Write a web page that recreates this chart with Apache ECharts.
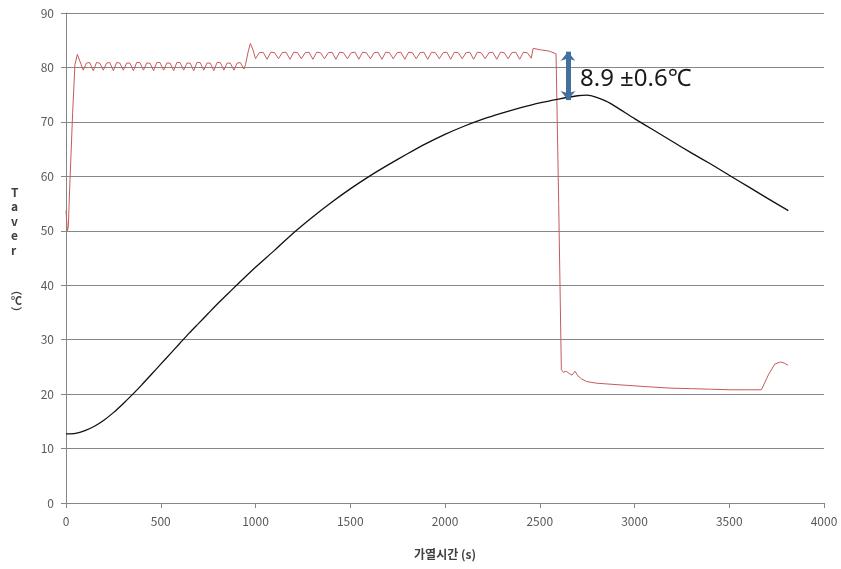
<!DOCTYPE html>
<html>
<head>
<meta charset="utf-8">
<script src="https://cdn.jsdelivr.net/npm/echarts@6/dist/echarts.min.js"></script>
<style>
  html, body { margin: 0; padding: 0; background: #fff; }
  #chart { width: 841px; height: 569px; }
</style>
</head>
<body>
<div id="chart"></div>
<script>
// Heater setpoint trace (red): time in s, temperature in ℃
const redTime = [
  0, 7, 12, 21, 35, 47, 60, 75,
  91, 108, 125, 144, 161, 178, 197, 214, 231, 250, 267, 284,
  303, 320, 337, 356, 373, 390, 409, 426, 443, 462, 479, 496,
  515, 532, 549, 568, 585, 602, 621, 638, 655, 674, 691, 708,
  727, 744, 761, 780, 797, 814, 833, 850, 867, 886, 903, 920,
  939, 947, 953, 962, 973, 985,
  1000, 1020, 1040, 1061, 1081, 1101, 1121, 1141, 1161, 1182, 1202, 1222,
  1242, 1262, 1282, 1303, 1323, 1343, 1364, 1384, 1404, 1424, 1444, 1464,
  1485, 1505, 1525, 1545, 1565, 1585, 1606, 1626, 1646, 1667, 1687, 1707,
  1727, 1747, 1767, 1788, 1808, 1828, 1848, 1868, 1888, 1909, 1929, 1949,
  1970, 1990, 2010, 2030, 2050, 2070, 2091, 2111, 2131, 2151, 2171, 2191,
  2212, 2232, 2252, 2273, 2293, 2313, 2333, 2353, 2373, 2394, 2414, 2434,
  2455, 2465, 2510, 2550, 2586,
  2600, 2614, 2625, 2640, 2655, 2670, 2686, 2700, 2720, 2748, 2800, 2923,
  3050, 3187, 3300, 3400, 3500, 3600, 3670, 3706, 3740, 3770, 3790, 3810
];
const redTemp = [
  53.7, 50.0, 50.6, 59.2, 71.6, 80.5, 82.4, 81.0,
  79.5, 80.8, 80.9, 79.4, 80.9, 80.8, 79.5, 80.8, 80.9, 79.4, 80.9, 80.8,
  79.5, 80.8, 80.8, 79.4, 80.9, 80.9, 79.5, 80.8, 80.8, 79.4, 80.9, 80.9,
  79.5, 80.8, 80.8, 79.4, 80.9, 80.9, 79.5, 80.8, 80.8, 79.4, 80.9, 80.9,
  79.5, 80.8, 80.8, 79.4, 80.9, 80.9, 79.5, 80.8, 80.8, 79.5, 80.8, 80.9,
  79.7, 80.5, 80.3, 83.0, 84.4, 83.4,
  81.6, 82.7, 82.8, 81.5, 82.8, 82.7, 81.6, 82.7, 82.8, 81.5, 82.8, 82.7,
  81.6, 82.7, 82.8, 81.5, 82.8, 82.7, 81.6, 82.7, 82.8, 81.5, 82.8, 82.7,
  81.6, 82.7, 82.8, 81.5, 82.8, 82.7, 81.6, 82.7, 82.8, 81.5, 82.8, 82.7,
  81.6, 82.7, 82.8, 81.5, 82.8, 82.7, 81.6, 82.7, 82.8, 81.5, 82.8, 82.7,
  81.6, 82.7, 82.8, 81.5, 82.8, 82.7, 81.6, 82.7, 82.8, 81.5, 82.8, 82.7,
  81.6, 82.7, 82.8, 81.5, 82.8, 82.7, 81.6, 82.7, 82.8, 81.5, 82.8, 82.7,
  81.7, 83.5, 83.2, 83.0, 82.5,
  55.0, 24.5, 24.0, 24.2, 23.8, 23.5, 24.2, 23.4, 22.8, 22.3, 22.0, 21.7,
  21.4, 21.1, 21.0, 20.9, 20.8, 20.8, 20.8, 23.5, 25.5, 25.9, 25.7, 25.3
];

// Average temperature trace (black)
const blackTime = [
  0, 50, 100, 150, 200, 250, 300, 350, 400, 450, 500, 550, 600, 650, 700, 750,
  800, 850, 900, 1000, 1100, 1200, 1300, 1400, 1500, 1600, 1700, 1800, 1900,
  2000, 2100, 2200, 2300, 2400, 2500, 2600, 2700, 2750, 2800, 2850, 2900, 3000,
  3100, 3200, 3300, 3400, 3500, 3600, 3700, 3812
];
const blackTemp = [
  12.7, 12.8, 13.3, 14.1, 15.2, 16.6, 18.2, 19.9, 21.7, 23.6, 25.5, 27.4, 29.3, 31.2, 33.0, 34.8,
  36.6, 38.3, 40.0, 43.3, 46.4, 49.6, 52.5, 55.2, 57.7, 60.0, 62.1, 64.1, 66.0,
  67.7, 69.2, 70.5, 71.6, 72.6, 73.5, 74.2, 74.8, 74.9, 74.5, 73.8, 72.8, 70.6,
  68.5, 66.4, 64.3, 62.3, 60.2, 58.1, 56.0, 53.7
];

// Gap annotation between the two traces
const gapTime = 2649;
const gapTop = 82.9;
const gapBottom = 74.0;
const gapLabel = '8.9 ±0.6℃';
const gapLabelAt = [2686, 77.8];

const xTitle = '가열시간 (s)';
const yTitleLetters = ['T', 'a', 'v', 'e', 'r'];
const yTitleUnit = ['︵', '℃', '︶'];

const axisGray = '#868686';
const labelGray = '#595959';
const baseFont = '"Noto Sans CJK KR", "Noto Sans", sans-serif';

const chart = echarts.init(document.getElementById('chart'), null, { renderer: 'canvas' });

chart.setOption({
  animation: false,
  backgroundColor: '#ffffff',
  grid: { left: 66, right: 17, top: 13, bottom: 66, containLabel: false },
  xAxis: {
    type: 'value',
    min: 0, max: 4000, interval: 500,
    name: xTitle,
    nameLocation: 'middle',
    nameGap: 45,
    nameTextStyle: { fontFamily: baseFont, fontSize: 12, fontWeight: 'bold', color: '#404040' },
    axisLine: { show: true, lineStyle: { color: axisGray, width: 1 } },
    axisTick: { show: true, inside: false, length: 5, lineStyle: { color: axisGray } },
    axisLabel: {
      fontFamily: baseFont, fontSize: 12, color: labelGray, margin: 12,
      formatter: (v) => String(v)
    },
    splitLine: { show: false }
  },
  yAxis: {
    type: 'value',
    min: 0, max: 90, interval: 10,
    axisLine: { show: true, lineStyle: { color: axisGray, width: 1 } },
    axisTick: { show: true, inside: false, length: 5, lineStyle: { color: axisGray } },
    axisLabel: { fontFamily: baseFont, fontSize: 12, color: labelGray, margin: 12 },
    splitLine: { show: true, lineStyle: { color: axisGray, width: 1 } }
  },
  graphic: [
    {
      type: 'text', left: 11, top: 185,
      style: {
        text: yTitleLetters.join('\n'),
        font: 'bold 12px ' + baseFont,
        fill: '#404040',
        lineHeight: 14.5,
        align: 'center'
      }
    },
    {
      type: 'text', left: 11, top: 284,
      style: {
        text: yTitleUnit.join('\n'),
        font: 'bold 11px ' + baseFont,
        fill: '#404040',
        lineHeight: 11.5,
        align: 'center'
      }
    }
  ],
  series: [
    {
      name: 'heater',
      type: 'line',
      data: redTime.map((t, i) => [t, redTemp[i]]),
      showSymbol: false,
      smooth: false,
      lineStyle: { color: '#c85a5a', width: 1 },
      z: 3
    },
    {
      name: 'Taver',
      type: 'line',
      data: blackTime.map((t, i) => [t, blackTemp[i]]),
      showSymbol: false,
      smooth: 0.2,
      lineStyle: { color: '#111111', width: 1.3 },
      z: 4,
      markLine: {
        silent: true,
        symbol: ['arrow', 'arrow'],
        symbolSize: [11, 9],
        label: { show: false },
        lineStyle: { color: '#41719c', width: 5, type: 'solid' },
        data: [[{ coord: [gapTime, gapTop] }, { coord: [gapTime, gapBottom] }]]
      },
      markPoint: {
        silent: true,
        symbol: 'circle',
        symbolSize: 0,
        label: {
          show: true,
          position: 'right',
          distance: 5,
          formatter: gapLabel,
          fontFamily: '"Noto Sans", "Noto Sans CJK KR", sans-serif',
          fontSize: 24,
          color: '#1a1a1a'
        },
        data: [{ coord: gapLabelAt }]
      }
    }
  ]
});
</script>
</body>
</html>
